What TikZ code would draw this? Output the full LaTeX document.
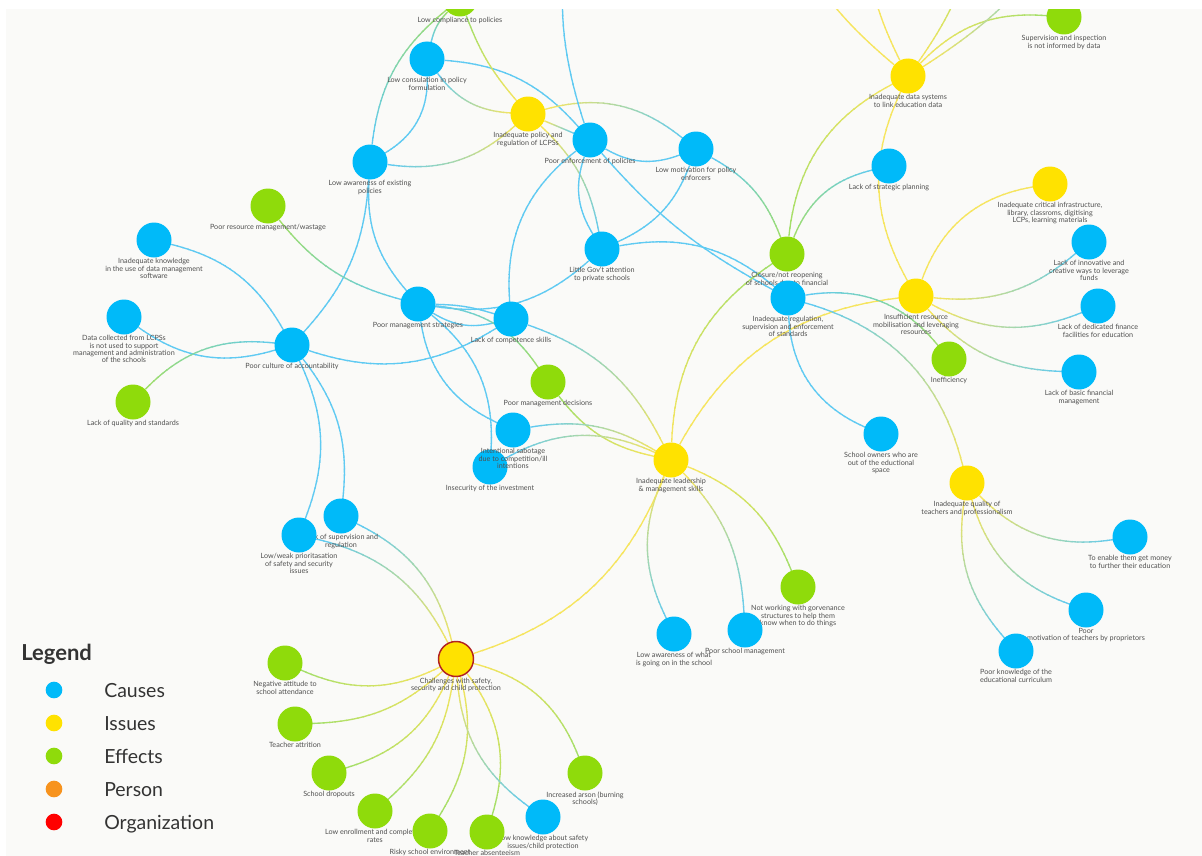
\documentclass[tikz,border=0pt]{standalone}
\usepackage{fontspec}
\setmainfont{Lato}
\usetikzlibrary{decorations.markings}

\definecolor{nBlue}{RGB}{0,186,249}
\definecolor{nYellow}{RGB}{255,226,0}
\definecolor{nGreen}{RGB}{143,219,11}
\definecolor{nOrange}{RGB}{247,147,30}
\definecolor{nRed}{RGB}{255,0,0}
\definecolor{eB}{RGB}{95,202,242}
\definecolor{eY}{RGB}{246,229,95}
\definecolor{eG}{RGB}{160,222,105}
\definecolor{paper}{RGB}{250,250,248}
\definecolor{labelgray}{RGB}{80,80,80}
\definecolor{legendtext}{RGB}{51,51,51}
\definecolor{orgborder}{RGB}{178,34,34}

\pgfdeclarelayer{paperlayer}
\pgfdeclarelayer{linklayer}
\pgfsetlayers{paperlayer,linklayer,main}

\tikzset{
  dot/.style={circle, minimum size=26.25pt, inner sep=0pt, draw=none},
  cause/.style={dot, fill=nBlue},
  issue/.style={dot, fill=nYellow},
  effect/.style={dot, fill=nGreen},
  org/.style={dot, fill=nYellow, draw=orgborder, line width=1.1pt},
  lbl/.style={font=\fontsize{5.4}{5.5}\selectfont, text=labelgray, align=center, inner sep=0pt},
  % a link whose colour runs from #1 at its start to #2 at its end
  grad link/.style 2 args={
    decorate,
    decoration={markings,
      mark=between positions 0 and 1 step 0.04 with {%
        \pgfmathsetmacro\gradpct{min(100,max(0,\pgfkeysvalueof{/pgf/decoration/mark info/distance from start}/\pgfdecoratedpathlength*100))}%
        \pgfmathsetmacro\gradlen{0.047*\pgfdecoratedpathlength}%
        \draw[line width=1pt, color={#2!\gradpct!#1}] (0pt,0pt) -- (\gradlen pt,0pt);
      }}
  }
}

% \place{style}{name}{x}{y}{label}
\newcommand\place[5]{\node[#1, label={[lbl]below:{#5}}] (#2) at (#3,#4) {};}
% \lnk{from}{to}{bend}{colour at start}{colour at end}
\newcommand\lnk[5]{\path[grad link={#4}{#5}] (#1) to[#3] (#2);}

\begin{document}
\begin{tikzpicture}[x=0.75pt, y=-0.75pt, label distance=0.3pt]
\useasboundingbox (0,0) rectangle (1202,856);

\begin{pgfonlayer}{paperlayer}
  \fill[white] (0,0) rectangle (1202,856);
  \fill[paper] (6,9) rectangle (1202,856);
\end{pgfonlayer}

% ---------- elements ----------
\place{effect}{lcomp}{460}{-1}{Low compliance to policies}
\place{cause}{lcons}{427}{59}{Low consulation in policy\\formulation}
\place{cause}{lawp}{370}{162}{Low awareness of existing\\policies}
\place{issue}{ipol}{528}{114}{Inadequate policy and\\regulation of LCPSs}
\place{cause}{penf}{590}{140}{Poor enforcement of policies}
\place{cause}{lmot}{696}{149}{Low motivation for policy\\enforcers}
\place{cause}{lgov}{602}{249}{Little Gov't attention\\to private schools}
\place{effect}{clos}{787}{254}{Closure/not reopening\\of schools due to financial}
\place{cause}{ireg}{788}{298}{Inadequate regulation,\\supervision and enforcement\\of standards}
\place{effect}{sup}{1064}{17}{Supervision and inspection\\is not informed by data}
\place{issue}{ids}{908}{76}{Inadequate data systems\\to link education data}
\place{cause}{lsp}{889}{166}{Lack of strategic planning}
\place{issue}{icrit}{1050}{184}{Inadequate critical infrastructure,\\library, classroms, digitising\\LCPs, learning materials}
\place{cause}{linn}{1089}{242}{Lack of innovative and\\creative ways to leverage\\funds}
\place{issue}{ires}{916}{296}{Insufficient resource\\mobilisation and leveraging\\resources}
\place{cause}{ldf}{1098}{306}{Lack of dedicated finance\\facilities for education}
\place{effect}{ineff}{949}{359}{Inefficiency}
\place{cause}{lbf}{1079}{372}{Lack of basic financial\\management}
\place{cause}{sown}{881}{434}{School owners who are\\out of the eductional\\space}
\place{issue}{iqt}{967}{483}{Inadequate quality of\\teachers and professionalism}
\place{cause}{enab}{1130}{537}{To enable them get money\\to further their education}
\place{effect}{nwork}{798}{587}{Not working with gorvenance\\structures to help them\\know when to do things}
\place{cause}{psm}{745}{630}{Poor school management}
\place{cause}{lawg}{674}{634}{Low awareness of what\\is going on in the school}
\place{cause}{pmot}{1086}{610}{Poor\\motivation of teachers by proprietors}
\place{cause}{pknow}{1016}{651}{Poor knowledge of the\\educational curriculum}
\place{effect}{prm}{268}{206}{Poor resource management/wastage}
\place{cause}{ikn}{154}{240}{Inadequate knowledge\\in the use of data management\\software}
\place{cause}{dcol}{124}{317}{Data collected from LCPSs\\is not used to support\\management and administration\\of the schools}
\place{cause}{pca}{292}{345}{Poor culture of accountability}
\place{effect}{lqs}{133}{402}{Lack of quality and standards}
\place{cause}{pms}{418}{304}{Poor management strategies}
\place{cause}{lcs}{511}{319}{Lack of competence skills}
\place{effect}{pmd}{548}{382}{Poor management decisions}
\place{cause}{insec}{490}{467}{Insecurity of the investment}
\place{cause}{isab}{513}{430}{Intentional sabotage\\due to competition/ill\\intentions}
\place{issue}{ilead}{671}{460}{Inadequate leadership\\\& management skills}
\place{cause}{lsupv}{341}{516}{Lack of supervision and\\regulation}
\place{cause}{lowp}{299}{535}{Low/weak prioritasation\\of safety and security\\issues}
\place{org}{chal}{456}{659}{Challenges with safety,\\security and child protection}
\place{effect}{negat}{285}{663}{Negative attitude to\\school attendance}
\place{effect}{tattr}{295}{724}{Teacher attrition}
\place{effect}{sdrop}{329}{773}{School dropouts}
\place{effect}{lenr}{375}{811}{Low enrollment and completion\\rates}
\place{effect}{risky}{430}{831}{Risky school environment}
\place{cause}{lksaf}{543}{817}{Low knowledge about safety\\issues/child protection}
\place{effect}{tabs}{487}{832}{Teacher absenteeism}
\place{effect}{arson}{585}{773}{Increased arson (burning\\schools)}

% links leaving the top edge
\coordinate (upA) at (585,-120);
\coordinate (upB) at (790,-60);
\coordinate (upC) at (865,-60);
\coordinate (upD) at (975,-60);
\coordinate (upE) at (1060,-60);

% ---------- links ----------
\begin{pgfonlayer}{linklayer}
\lnk{lcomp}{lcons}{bend right=15}{eG}{eB}
\lnk{lawp}{lcomp}{bend left=22}{eB}{eG}
\lnk{lcons}{lawp}{bend left=30}{eB}{eB}
\lnk{lcons}{penf}{bend left=22}{eB}{eB}
\lnk{lcons}{ipol}{bend right=25}{eB}{eY}
\lnk{lcomp}{ipol}{bend right=10}{eG}{eY}
\lnk{lawp}{ipol}{bend right=25}{eB}{eY}
\lnk{ipol}{penf}{}{eY}{eB}
\lnk{ipol}{lmot}{bend left=27}{eY}{eB}
\lnk{ipol}{lgov}{bend left=18}{eY}{eB}
\lnk{penf}{lmot}{bend right=25}{eB}{eB}
\lnk{penf}{lgov}{bend right=25}{eB}{eB}
\lnk{penf}{lcs}{bend right=28}{eB}{eB}
\lnk{penf}{ireg}{bend right=10}{eB}{eB}
\lnk{penf}{upA}{bend left=18}{eB}{eB}
\lnk{lmot}{lgov}{bend left=22}{eB}{eB}
\lnk{lmot}{clos}{bend left=20}{eB}{eG}
\lnk{lgov}{ireg}{bend left=25}{eB}{eB}
\lnk{lgov}{pms}{bend left=25}{eB}{eB}
\lnk{lawp}{pms}{bend right=22}{eB}{eB}
\lnk{lawp}{pca}{bend left=19}{eB}{eB}
\lnk{prm}{pms}{bend right=18}{eG}{eB}
\lnk{ikn}{pca}{bend left=23}{eB}{eB}
\lnk{dcol}{pca}{bend right=26}{eB}{eB}
\lnk{lqs}{pca}{bend left=26}{eG}{eB}
\lnk{pca}{lowp}{bend left=23}{eB}{eB}
\lnk{pca}{lsupv}{bend left=22}{eB}{eB}
\lnk{pca}{lcs}{bend right=25}{eB}{eB}
\lnk{pms}{lcs}{bend left=8}{eB}{eB}
\lnk{pms}{lcs}{bend right=22}{eB}{eB}
\lnk{pms}{pmd}{bend left=25}{eB}{eG}
\lnk{pms}{isab}{bend right=28}{eB}{eB}
\lnk{pms}{insec}{bend left=27}{eB}{eB}
\lnk{lcs}{ilead}{bend left=22}{eB}{eY}
\lnk{pmd}{ilead}{bend right=20}{eG}{eY}
\lnk{isab}{ilead}{bend left=20}{eB}{eY}
\lnk{insec}{ilead}{bend left=27}{eB}{eY}
\lnk{ilead}{clos}{bend left=27}{eY}{eG}
\lnk{ilead}{ires}{bend left=27}{eY}{eY}
\lnk{ilead}{chal}{bend left=25}{eY}{eY}
\lnk{ilead}{lawg}{bend right=25}{eY}{eB}
\lnk{ilead}{psm}{bend left=20}{eY}{eB}
\lnk{ilead}{nwork}{bend left=23}{eY}{eG}
\lnk{clos}{ids}{bend left=28}{eG}{eY}
\lnk{clos}{lsp}{bend left=27}{eG}{eB}
\lnk{ids}{ires}{bend right=27}{eY}{eY}
\lnk{ids}{sup}{bend left=25}{eY}{eG}
\lnk{ids}{upB}{bend left=10}{eY}{eY}
\lnk{ids}{upC}{bend left=10}{eY}{eY}
\lnk{ids}{upD}{bend right=10}{eY}{eG}
\lnk{ids}{upE}{bend right=10}{eY}{eB}
\lnk{ires}{icrit}{bend left=30}{eY}{eY}
\lnk{ires}{linn}{bend right=23}{eY}{eB}
\lnk{ires}{ldf}{bend right=25}{eY}{eB}
\lnk{ires}{lbf}{bend right=23}{eY}{eB}
\lnk{ireg}{ineff}{bend left=30}{eB}{eG}
\lnk{ireg}{iqt}{bend left=30}{eB}{eY}
\lnk{ireg}{sown}{bend right=32}{eB}{eB}
\lnk{iqt}{enab}{bend right=27}{eY}{eB}
\lnk{iqt}{pmot}{bend right=27}{eY}{eB}
\lnk{iqt}{pknow}{bend right=25}{eY}{eB}
\lnk{chal}{negat}{bend left=25}{eY}{eG}
\lnk{chal}{tattr}{bend left=20}{eY}{eG}
\lnk{chal}{sdrop}{bend left=25}{eY}{eG}
\lnk{chal}{lenr}{bend left=20}{eY}{eG}
\lnk{chal}{risky}{bend left=23}{eY}{eG}
\lnk{chal}{tabs}{bend left=27}{eY}{eG}
\lnk{chal}{lksaf}{bend right=25}{eY}{eB}
\lnk{chal}{arson}{bend left=27}{eY}{eG}
\lnk{lsupv}{chal}{bend left=25}{eB}{eY}
\lnk{lowp}{chal}{bend left=25}{eB}{eY}
\end{pgfonlayer}

% ---------- legend ----------
\node[anchor=base west, inner sep=0pt, font=\fontsize{16.5}{18}\selectfont\bfseries, text=legendtext] (legendtitle) at (21,660) {Legend};
\foreach \col/\txt/\yy [count=\i] in {nBlue/Causes/690, nYellow/Issues/723, nGreen/Effects/756, nOrange/Person/789, nRed/Organization/822} {
  \node[circle, fill=\col, minimum size=12.5pt, inner sep=0pt] (legdot\i) at (54,\yy) {};
  \node[anchor=base west, inner sep=0pt, font=\fontsize{14.6}{16}\selectfont, text=legendtext] (legtxt\i) at (104,\yy+7) {\txt};
}

% page margins
\fill[white] (0,0) rectangle (1202,9);
\fill[white] (0,0) rectangle (6,856);
\end{tikzpicture}
\end{document}
